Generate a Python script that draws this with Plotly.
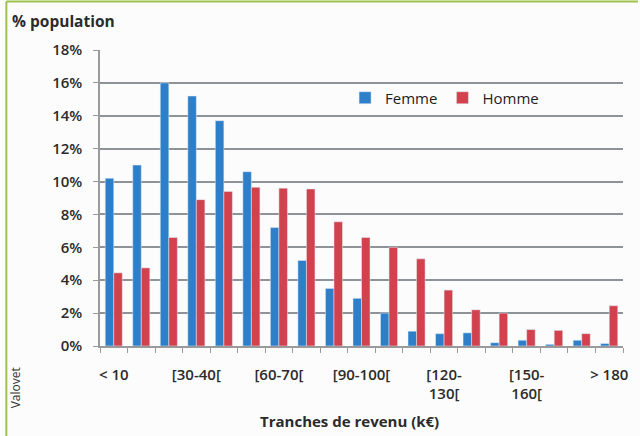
import plotly.graph_objects as go

categories = ["< 10", "[10-20[", "[20-30[", "[30-40[", "[40-50[", "[50-60[", "[60-70[",
              "[70-80[", "[80-90[", "[90-100[", "[100-110[", "[110-120[", "[120-130[",
              "[130-140[", "[140-150[", "[150-160[", "[160-170[", "[170-180[", "> 180"]
femme = [10.2, 11.0, 16.0, 15.2, 13.7, 10.6, 7.2, 5.2, 3.5, 2.9, 2.0, 0.9, 0.75, 0.8,
         0.2, 0.35, 0.1, 0.35, 0.15]
homme = [4.45, 4.75, 6.6, 8.9, 9.4, 9.65, 9.6, 9.55, 7.55, 6.6, 6.0, 5.3, 3.4, 2.2,
         2.0, 1.0, 0.95, 0.75, 2.45]
shown_idx = [0, 3, 6, 9, 12, 15, 18]
shown_text = ["< 10", "[30-40[", "[60-70[", "[90-100[", "[120-<br>130[", "[150-<br>160[", "> 180"]
y_ticks = [0, 2, 4, 6, 8, 10, 12, 14, 16, 18]
y_text = ["0%", "2%", "4%", "6%", "8%", "10%", "12%", "14%", "16%", "18%"]

x = list(range(len(categories)))
BLUE = "#2d7fc9"
RED = "#d1424e"
TXT = "#2b2b2b"
FONT = "Open Sans, Liberation Sans, sans-serif"

fig = go.Figure()
fig.add_bar(x=x, y=femme, name="Femme", marker_color=BLUE, customdata=categories)
fig.add_bar(x=x, y=homme, name="Homme", marker_color=RED, customdata=categories)

L, R, T, B = 100, 15, 50, 90
W, H = 640, 436
pw, ph = W - L - R, H - T - B

def px(xp):
    return (xp - L) / pw

def py(yp):
    return (H - B - yp) / ph

fig.update_layout(
    width=W, height=H,
    margin=dict(l=L, r=R, t=T, b=B),
    paper_bgcolor="#fcfcfc", plot_bgcolor="#fcfcfc",
    barmode="group", bargap=0.38, bargroupgap=0,
    font=dict(family=FONT, color=TXT, size=14),
    showlegend=True,
    legend=dict(orientation="h", x=px(346), y=py(98), xanchor="left", yanchor="middle",
                bgcolor="rgba(0,0,0,0)", font=dict(size=15, color="#222"),
                itemwidth=30, traceorder="normal"),
    xaxis=dict(
        range=[-0.5, len(categories) - 0.5],
        tickvals=shown_idx, ticktext=shown_text,
        ticks="", showgrid=False, zeroline=False,
        showline=True, linecolor="#9a9a9a", linewidth=1.5,
        ticklabelstandoff=14,
        tickfont=dict(size=15, color=TXT, weight=600),
        minor=dict(tickvals=[i - 0.5 for i in range(len(categories) + 1)],
                   ticks="outside", ticklen=5, tickcolor="#9a9a9a", tickwidth=1, showgrid=False),
    ),
    yaxis=dict(
        range=[0, 18], tickvals=y_ticks, ticktext=y_text,
        showgrid=True, gridcolor="#8e9399", gridwidth=1.5,
        zeroline=False, showline=True, linecolor="#9a9a9a", linewidth=1.5,
        ticks="outside", ticklen=5, tickcolor="#9a9a9a",
        ticklabelstandoff=8,
        tickfont=dict(size=15, color=TXT, weight=600),
    ),
    annotations=[
        dict(text="<b>% population</b>", xref="paper", yref="paper", x=px(10), y=py(21),
             xanchor="left", yanchor="middle", showarrow=False, font=dict(size=15.5, color=TXT)),
        dict(text="<b>Tranches de revenu (k€)</b>", xref="paper", yref="paper", x=px(350), y=py(421),
             xanchor="center", yanchor="middle", showarrow=False, font=dict(size=15, color=TXT)),
        dict(text="Valovet", xref="paper", yref="paper", x=px(15), y=py(388), textangle=-90,
             xanchor="center", yanchor="middle", showarrow=False, font=dict(size=12, color="#333")),
    ],
    shapes=[
        dict(type="line", xref="paper", yref="paper", x0=px(6), x1=px(W), y0=py(1.5), y1=py(1.5),
             line=dict(color="#9cc34a", width=2)),
        dict(type="line", xref="paper", yref="paper", x0=px(6), x1=px(6), y0=py(1.5), y1=py(H),
             line=dict(color="#9cc34a", width=2)),
    ],
)

fig.write_html("out.html", config={"displayModeBar": False},
               post_script="document.body.style.margin='0';document.body.style.overflow='hidden';")
